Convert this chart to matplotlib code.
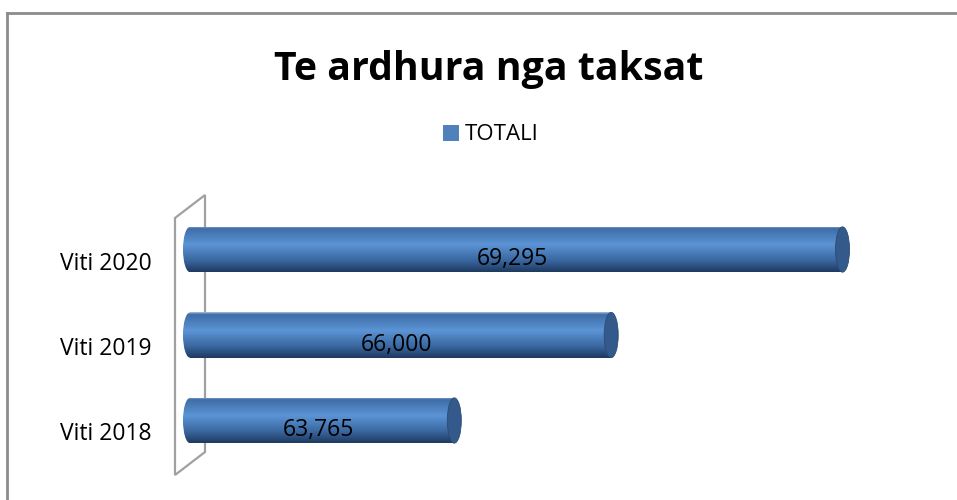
import numpy as np
import matplotlib.pyplot as plt
from matplotlib.patches import Ellipse, Polygon
from matplotlib.lines import Line2D
from matplotlib.colors import LinearSegmentedColormap
from matplotlib.transforms import ScaledTranslation

# --- data ---
categories = ['Viti 2018', 'Viti 2019', 'Viti 2020']
values = [63765, 66000, 69295]
value_labels = ['63,765', '66,000', '69,295']
series_name = 'TOTALI'
title = 'Te ardhura nga taksat'

x_min, x_max = 60000, 70000
W, H = 957, 500
px_per_unit = 0.0702
cap_w = 200  # data units for the elliptical end caps
x_lo = x_min - cap_w  # leave room for the rounded left ends

plt.rcParams['font.family'] = ['Open Sans', 'DejaVu Sans']

fig = plt.figure(figsize=(W / 100, H / 100), dpi=100)
ax_left = 190 - cap_w * px_per_unit
ax = fig.add_axes([ax_left / W, 1 - 463.25 / H,
                   (x_max - x_lo) * px_per_unit / W, 256.5 / H])

# cylinder shading, top -> bottom
cyl = LinearSegmentedColormap.from_list('cyl', [
    (0.00, '#a9c1de'), (0.04, '#3e6ca6'), (0.40, '#5b94d5'),
    (0.75, '#3a67a0'), (1.00, '#1e3a60')])
grad = np.linspace(0, 1, 100).reshape(-1, 1)

bar_h = 0.53
y_pos = np.arange(len(categories))

bars = ax.barh(y_pos, [v - x_min for v in values], left=x_min, height=bar_h,
               color='#4f81bd', label=series_name, zorder=2)

for bar, v, yc in zip(bars, values, y_pos):
    y0, y1 = yc - bar_h / 2, yc + bar_h / 2
    # body
    im = ax.imshow(grad, cmap=cyl, aspect='auto', extent=(x_min, v, y0, y1),
                   zorder=3, interpolation='bicubic')
    im.set_clip_path(bar)
    # rounded left end
    left = Ellipse((x_min, yc), cap_w, bar_h, facecolor='none', edgecolor='none')
    ax.add_patch(left)
    im2 = ax.imshow(grad, cmap=cyl, aspect='auto',
                    extent=(x_min - cap_w, x_min + 5, y0, y1),
                    zorder=3, interpolation='bicubic')
    im2.set_clip_path(left)
    # right end cap
    cap = Ellipse((v, yc), cap_w, bar_h, facecolor='#335a8a',
                  edgecolor='#2a4c78', lw=0.6, zorder=4)
    ax.add_patch(cap)

ax.set_xlim(x_lo, x_max)
ax.set_ylim(-0.5, 2.5)

# data labels
for v, yc, lab in zip(values, y_pos, value_labels):
    ax.annotate(lab, ((x_min + v) / 2, yc), xytext=(-3, -7), textcoords='offset points',
                ha='center', va='center', fontsize=16.5, color='#000000', zorder=5)

ax.set_yticks(y_pos)
ax.set_yticklabels(categories, fontsize=16.5)
ax.tick_params(axis='y', length=0, pad=(190 - 152) * 0.72 - cap_w * px_per_unit * 0.72)
ax.set_xticks([])
for lab in ax.get_yticklabels():
    lab.set_transform(lab.get_transform() + ScaledTranslation(0, -0.11, fig.dpi_scale_trans))
for s in ax.spines.values():
    s.set_visible(False)
ax.patch.set_alpha(0)

# back wall outline (behind the bars)
wall = [(175, 218), (205, 195), (205, 452), (175, 475)]
fig.add_artist(Polygon([(x / W, 1 - y / H) for x, y in wall], closed=True,
                       facecolor='none', edgecolor='#a0a0a0', lw=1.6, zorder=-1,
                       transform=fig.transFigure))

# chart frame
fig.add_artist(Line2D([6.5 / W, 1.0], [1 - 13 / H, 1 - 13 / H], color='#8c8c8c', lw=2))
fig.add_artist(Line2D([6.5 / W, 6.5 / W], [0, 1 - 13 / H], color='#8c8c8c', lw=2))

fig.text(488.5 / W, 1 - 80 / H, title, ha='center', va='baseline',
         fontsize=28.3, fontweight='bold')

fig.legend(loc='center', bbox_to_anchor=(491 / W, 1 - 135 / H), frameon=False,
           fontsize=16, handlelength=0.7, handleheight=0.7, handletextpad=0.3)

fig.savefig('out.png', dpi=100)
